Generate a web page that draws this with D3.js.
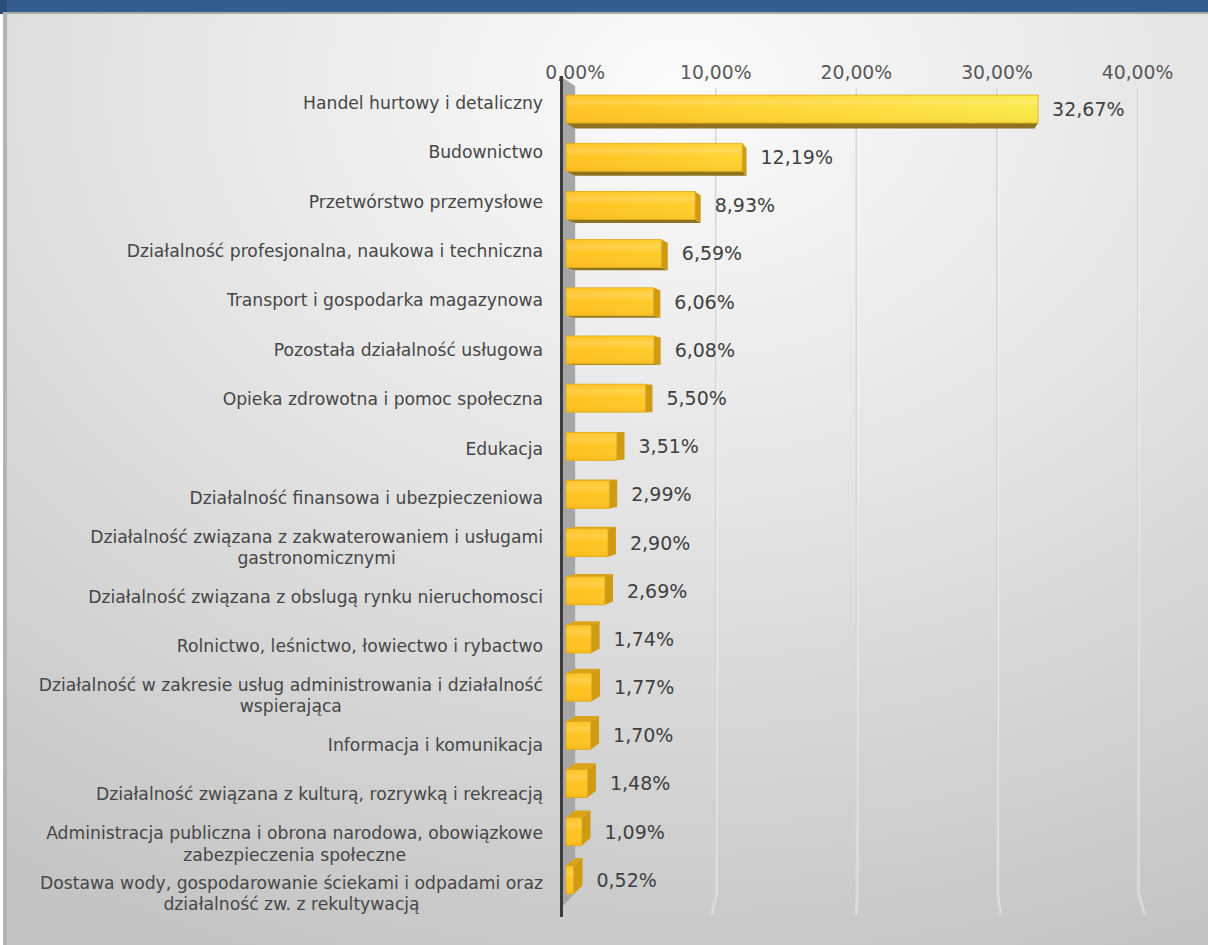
<!DOCTYPE html>
<html>
<head>
<meta charset="utf-8">
<script src="https://cdn.jsdelivr.net/npm/d3@7"></script>
<style>
  html, body { margin: 0; padding: 0; background: #fff; }
  svg { display: block; }
</style>
</head>
<body>
<div id="chart"></div>
<script>
// data (shares of firms by section, %)
const categories = [
  "Handel hurtowy i detaliczny",
  "Budownictwo",
  "Przetwórstwo przemysłowe",
  "Działalność profesjonalna, naukowa i techniczna",
  "Transport i gospodarka magazynowa",
  "Pozostała działalność usługowa",
  "Opieka zdrowotna i pomoc społeczna",
  "Edukacja",
  "Działalność finansowa  i ubezpieczeniowa",
  "Działalność związana z zakwaterowaniem i usługami\ngastronomicznymi",
  "Działalność związana z obslugą rynku nieruchomosci",
  "Rolnictwo, leśnictwo, łowiectwo i rybactwo",
  "Działalność w zakresie usług administrowania i działalność\nwspierająca",
  "Informacja i komunikacja",
  "Działalność związana z kulturą, rozrywką i rekreacją",
  "Administracja publiczna i obrona narodowa, obowiązkowe\nzabezpieczenia społeczne",
  "Dostawa wody, gospodarowanie ściekami i odpadami oraz\ndziałalność zw. z rekultywacją"
];
const values = [32.67, 12.19, 8.93, 6.59, 6.06, 6.08, 5.50, 3.51, 2.99, 2.90, 2.69, 1.74, 1.77, 1.70, 1.48, 1.09, 0.52];
const ticks = [0, 10, 20, 30, 40];

const W = 1208, H = 945;
const pl = d3.formatLocale({decimal: ",", thousands: " ", grouping: [3], currency: ["", " zł"]});
const fmt = v => pl.format(".2f")(v) + "%";

const svg = d3.select("#chart").append("svg")
  .attr("width", W).attr("height", H);

const defs = svg.append("defs");

// panel background
const bg = defs.append("radialGradient").attr("id", "bg")
  .attr("cx", 0.56).attr("cy", 0.08).attr("r", 1.0);
bg.append("stop").attr("offset", 0).attr("stop-color", "#fbfbfb");
bg.append("stop").attr("offset", 0.45).attr("stop-color", "#e4e4e4");
bg.append("stop").attr("offset", 1).attr("stop-color", "#c4c4c4");

// bar front colour, brighter to the right
const barGrad = defs.append("linearGradient").attr("id", "barGrad")
  .attr("gradientUnits", "userSpaceOnUse")
  .attr("x1", 566).attr("x2", 1040).attr("y1", 0).attr("y2", 0);
barGrad.append("stop").attr("offset", 0).attr("stop-color", "#ffc21f");
barGrad.append("stop").attr("offset", 0.35).attr("stop-color", "#ffd230");
barGrad.append("stop").attr("offset", 1).attr("stop-color", "#fbea48");

const shine = defs.append("linearGradient").attr("id", "shine")
  .attr("x1", 0).attr("x2", 0).attr("y1", 0).attr("y2", 1);
shine.append("stop").attr("offset", 0).attr("stop-color", "#fff").attr("stop-opacity", 0.0);
shine.append("stop").attr("offset", 0.25).attr("stop-color", "#fff").attr("stop-opacity", 0.18);
shine.append("stop").attr("offset", 0.5).attr("stop-color", "#fff").attr("stop-opacity", 0.0);
shine.append("stop").attr("offset", 1).attr("stop-color", "#c07800").attr("stop-opacity", 0.12);

// header band + frame
svg.append("rect").attr("x", 0).attr("y", 0).attr("width", W).attr("height", 12).attr("fill", "#335e8f");
svg.append("rect").attr("x", 0).attr("y", 0).attr("width", 7).attr("height", 14).attr("fill", "#2a4f7c");
svg.append("rect").attr("x", 6).attr("y", 12).attr("width", W - 6).attr("height", H - 12).attr("fill", "url(#bg)");
svg.append("rect").attr("x", 6).attr("y", 12).attr("width", W - 6).attr("height", 2).attr("fill", "#a8a8a8");
svg.append("rect").attr("x", 3).attr("y", 12).attr("width", 4).attr("height", H - 12).attr("fill", "#b4b4b4");

// scales: front plane of the 3D plot, back plane via a simple perspective shift
const x = d3.scaleLinear().domain([0, 40]).range([566, 1144]);
const yLabel = d3.scaleBand().domain(categories).range([78, 918]);
const yBar = d3.scaleBand().domain(categories).range([85, 904]);
const vx = 905, vy = 420, kx = 0.027, ky = 0.018;
const proj = (px, py) => [px + (vx - px) * kx, py + (vy - py) * ky];
const floorBack = 893, floorFront = 915, wallTop = 88;

// gridlines on the back wall with a slant across the floor
const grid = svg.append("g");
ticks.slice(1).forEach(t => {
  const xb = proj(x(t), 0)[0];
  const d = d3.line()([[xb, wallTop], [xb, floorBack], [x(t), floorFront]]);
  grid.append("path").attr("d", d).attr("fill", "none")
    .attr("stroke", "#d6d6d6").attr("stroke-width", 1.6);
  grid.append("path").attr("d", d).attr("fill", "none")
    .attr("stroke", "#ffffff").attr("stroke-opacity", 0.55).attr("stroke-width", 1)
    .attr("transform", "translate(1.5,0)");
});

// left wall
const x0b = proj(x(0), 0)[0];
svg.append("path")
  .attr("d", d3.line()([[563, 78], [x0b, wallTop - 2], [x0b, floorBack], [563, 906]]))
  .attr("fill", "#a6a6a6");

// tick labels
svg.append("g").selectAll("text").data(ticks).join("text")
  .attr("x", t => proj(x(t), 0)[0])
  .attr("y", 79)
  .attr("text-anchor", "middle")
  .style("font-family", "DejaVu Sans")
  .style("font-size", "18.8px")
  .style("fill", "#595959")
  .text(t => fmt(t));

// bars
const bh = 28;
const bars = svg.append("g");
categories.forEach((c, i) => {
  const v = values[i];
  const cy = yBar(c) + yBar.bandwidth() / 2;
  const x0 = x(0), x1 = x(v), y0 = cy - bh / 2, y1 = cy + bh / 2;
  const g = bars.append("g");
  if (cy < vy) {
    g.append("path").attr("d", d3.line()([[x0, y1], [x1, y1], proj(x1, y1), proj(x0, y1)]) + "Z")
      .attr("fill", "#8f721f");
  } else {
    g.append("path").attr("d", d3.line()([[x0, y0], [x1, y0], proj(x1, y0), proj(x0, y0)]) + "Z")
      .attr("fill", "#d9a418");
  }
  if (x1 < vx) {
    g.append("path").attr("d", d3.line()([[x1, y0], [x1, y1], proj(x1, y1), proj(x1, y0)]) + "Z")
      .attr("fill", "#cf9b12");
  }
  g.append("rect").attr("x", x0).attr("y", y0).attr("width", x1 - x0).attr("height", bh)
    .attr("fill", "url(#barGrad)").attr("stroke", "#e0aa18").attr("stroke-width", 0.8);
  g.append("rect").attr("x", x0).attr("y", y0).attr("width", x1 - x0).attr("height", bh)
    .attr("fill", "url(#shine)");
  g.append("text")
    .attr("x", Math.max(x1, proj(x1, 0)[0]) + 14)
    .attr("y", cy)
    .attr("dy", "0.36em")
    .style("font-family", "DejaVu Sans")
    .style("font-size", "19px")
    .style("fill", "#404040")
    .text(fmt(v));
});

// axis line
svg.append("line").attr("x1", 561.5).attr("x2", 561.5).attr("y1", 76).attr("y2", 917)
  .attr("stroke", "#3c3c3c").attr("stroke-width", 3);

// category labels, multi-line ones centred within their block
const labelRight = 543, lineH = 21.5;
const lab = svg.append("g");
categories.forEach(c => {
  const lines = c.split("\n");
  const cy = yLabel(c) + yLabel.bandwidth() / 2;
  const t = lab.append("text")
    .style("font-family", "DejaVu Sans")
    .style("font-size", "17.2px")
    .style("fill", "#464646")
    .attr("text-anchor", lines.length > 1 ? "middle" : "end");
  const spans = lines.map((ln, j) => t.append("tspan")
    .attr("y", cy + (j - (lines.length - 1) / 2) * lineH)
    .attr("dy", "0.35em")
    .text(ln));
  const maxW = d3.max(spans, s => s.node().getComputedTextLength());
  spans.forEach(s => s.attr("x", lines.length > 1 ? labelRight - maxW / 2 : labelRight));
});
</script>
</body>
</html>
